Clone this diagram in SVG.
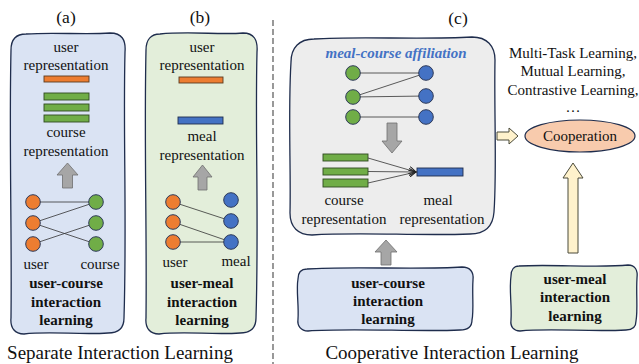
<svg xmlns="http://www.w3.org/2000/svg" width="639" height="364" viewBox="0 0 639 364">
<defs>
<style>
.t{font-family:"Liberation Serif","Times New Roman",serif;font-size:15px;fill:#111;text-anchor:middle}
.b{font-weight:bold}
.cap{font-size:19px}
.lab{font-size:17.5px}
.panel{stroke:#1F2D4D;stroke-width:1.3;stroke-linejoin:round}
.blue{fill:#DAE3F3}.green{fill:#E3EEDA}.grey{fill:#EDEDED}
.co{fill:#ED7D31;stroke:#2E3A59;stroke-width:1}
.cg{fill:#70AD47;stroke:#2E3A59;stroke-width:1}
.cb{fill:#4472C4;stroke:#2E3A59;stroke-width:1}
.bo{fill:#ED7D31;stroke:#5A3A20;stroke-width:0.9}
.bg{fill:#70AD47;stroke:#2F4A20;stroke-width:0.9}
.bb{fill:#4472C4;stroke:#1F2D4D;stroke-width:0.9}
.ln{stroke:#333;stroke-width:0.8;fill:none}
.ga{fill:#A6A6A6;stroke:#6E6E6E;stroke-width:0.8}
.ya{fill:#FFF2CC;stroke:#4A4A3A;stroke-width:1}
</style>
<marker id="ah" markerWidth="8" markerHeight="8" refX="7" refY="4" orient="auto" markerUnits="userSpaceOnUse">
<path d="M0,0.5 L7,4 L0,7.5" fill="none" stroke="#222" stroke-width="1"/>
</marker>
</defs>

<!-- Panel (a) -->
<g id="panel-a">
<text class="t lab" x="66" y="23">(a)</text>
<path class="panel blue" d="M26 34 C55 32,85 35,110 33 C122 33,126 40,125 52 C123 130,127 220,124 318 C124 328,118 333,108 333 C80 335,50 331,24 334 C15 334,10 328,11 318 C12 230,9 140,11 50 C11 40,16 34,26 34 Z"/>
<text class="t" x="66" y="52">user</text>
<text class="t" x="66" y="70">representation</text>
<rect class="bo" x="44" y="76" width="45" height="6"/>
<rect class="bg" x="44" y="93" width="45" height="7"/>
<rect class="bg" x="44" y="104" width="45" height="7"/>
<rect class="bg" x="44" y="115" width="45" height="7"/>
<text class="t" x="66" y="137">course</text>
<text class="t" x="66" y="156">representation</text>
<path class="ga" d="M62.5 188 L62.5 175 L57 175 L67.5 163 L78 175 L72.5 175 L72.5 188 Z"/>
<g id="graph-a">
<line class="ln" x1="33" y1="202" x2="96" y2="202"/>
<line class="ln" x1="33" y1="223" x2="96" y2="202"/>
<line class="ln" x1="33" y1="223" x2="96" y2="244"/>
<line class="ln" x1="33" y1="244" x2="96" y2="223"/>
<circle class="co" cx="33" cy="202" r="7.3"/>
<circle class="co" cx="33" cy="223" r="7.3"/>
<circle class="co" cx="33" cy="244" r="7.3"/>
<circle class="cg" cx="96" cy="202" r="7.3"/>
<circle class="cg" cx="96" cy="223" r="7.3"/>
<circle class="cg" cx="96" cy="244" r="7.3"/>
</g>
<text class="t" x="36" y="269">user</text>
<text class="t" x="100" y="269">course</text>
<text class="t b" x="66" y="288">user-course</text>
<text class="t b" x="66" y="307">interaction</text>
<text class="t b" x="66" y="325">learning</text>
</g>

<!-- Panel (b) -->
<g id="panel-b">
<text class="t lab" x="200" y="23">(b)</text>
<path class="panel green" d="M160 34 C190 31,220 35,243 33 C254 33,258 40,257 52 C255 130,259 220,256 318 C256 328,250 333,240 333 C212 335,185 331,159 334 C150 334,145 328,146 318 C147 230,144 140,146 50 C146 40,151 34,160 34 Z"/>
<text class="t" x="202" y="52">user</text>
<text class="t" x="202" y="70">representation</text>
<rect class="bo" x="179" y="77" width="44" height="6"/>
<rect class="bb" x="178" y="117" width="45" height="7"/>
<text class="t" x="202" y="141">meal</text>
<text class="t" x="202" y="160">representation</text>
<path class="ga" d="M198 190 L198 177 L193 177 L202.5 165 L212 177 L207 177 L207 190 Z"/>
<g id="graph-b">
<line class="ln" x1="173" y1="202" x2="231" y2="221"/>
<line class="ln" x1="173" y1="222" x2="231" y2="242"/>
<line class="ln" x1="173" y1="242" x2="231" y2="242"/>
<circle class="co" cx="173" cy="202" r="7.3"/>
<circle class="co" cx="173" cy="222" r="7.3"/>
<circle class="co" cx="173" cy="242" r="7.3"/>
<circle class="cb" cx="231" cy="200" r="7.3"/>
<circle class="cb" cx="231" cy="221" r="7.3"/>
<circle class="cb" cx="231" cy="242" r="7.3"/>
</g>
<text class="t" x="175" y="267">user</text>
<text class="t" x="236" y="266">meal</text>
<text class="t b" x="202" y="288">user-meal</text>
<text class="t b" x="202" y="307">interaction</text>
<text class="t b" x="202" y="325">learning</text>
</g>

<text class="t cap" x="120" y="359">Separate Interaction Learning</text>

<line x1="273" y1="20" x2="273" y2="364" stroke="#555" stroke-width="1.2" stroke-dasharray="6 3"/>

<!-- Panel (c) -->
<g id="panel-c">
<text class="t lab" x="458" y="24">(c)</text>
<path class="panel grey" d="M314 39 C360 36,420 40,472 37 C487 37,495 46,495 60 C494 110,497 170,494 212 C493 226,485 234,470 234 C420 236,360 232,312 235 C298 235,290 227,290 213 C291 170,288 110,291 62 C291 48,299 39,314 39 Z"/>
<text class="t b" x="396" y="58" font-style="italic" style="fill:#4472C4">meal-course affiliation</text>
<g id="graph-c">
<line class="ln" x1="353" y1="73" x2="426" y2="73"/>
<line class="ln" x1="353" y1="97" x2="426" y2="73"/>
<line class="ln" x1="353" y1="97" x2="426" y2="96"/>
<line class="ln" x1="353" y1="117" x2="426" y2="117"/>
<circle class="cg" cx="353" cy="73" r="7.3"/>
<circle class="cg" cx="353" cy="97" r="7.3"/>
<circle class="cg" cx="353" cy="117" r="7.3"/>
<circle class="cb" cx="426" cy="73" r="7.3"/>
<circle class="cb" cx="426" cy="96" r="7.3"/>
<circle class="cb" cx="426" cy="117" r="7.3"/>
</g>
<path class="ga" d="M387 123 L397 123 L397 141 L402 141 L392 153 L382 141 L387 141 Z"/>
<rect class="bg" x="323" y="154" width="45" height="7"/>
<rect class="bg" x="323" y="168" width="45" height="7"/>
<rect class="bg" x="323" y="179" width="45" height="8"/>
<rect class="bb" x="417" y="168" width="46" height="8"/>
<text class="t" x="344" y="205">course</text>
<text class="t" x="344" y="224">representation</text>
<text class="t" x="438" y="205">meal</text>
<text class="t" x="442" y="224">representation</text>
</g>

<g id="connectors">
<line class="ln" x1="368" y1="158" x2="416" y2="172" marker-end="url(#ah)"/>
<line class="ln" x1="368" y1="171.5" x2="416" y2="172" marker-end="url(#ah)"/>
<line class="ln" x1="368" y1="183" x2="416" y2="172" marker-end="url(#ah)"/>
<path class="ga" d="M381 265 L381 252 L375 252 L386 240 L397 252 L391 252 L391 265 Z"/>
<path class="ya" d="M497 132 L509 132 L509 128 L518 136 L509 144 L509 140 L497 140 Z"/>
<path class="ya" d="M568 253 L568 178 L563 178 L573 163 L583 178 L578 178 L578 253 Z"/>
</g>

<g id="node-user-course">
<path class="panel blue" d="M307 269 C350 266,420 270,462 267 C470 267,474 272,473 280 C472 295,474 310,472 320 C472 327,467 330,460 330 C420 332,350 328,308 331 C301 331,297 326,298 319 C299 305,296 290,298 279 C298 272,301 269,307 269 Z"/>
<text class="t b" x="388" y="288">user-course</text>
<text class="t b" x="388" y="306">interaction</text>
<text class="t b" x="388" y="324">learning</text>
</g>

<g id="node-cooperation">
<ellipse cx="580" cy="136" rx="55" ry="16" fill="#F8CBAD" stroke="#1F2D4D" stroke-width="1.2"/>
<text class="t" x="580" y="141">Cooperation</text>
</g>
<text class="t" x="573" y="58">Multi-Task Learning,</text>
<text class="t" x="573" y="76">Mutual Learning,</text>
<text class="t" x="573" y="95">Contrastive Learning,</text>
<text class="t" x="573" y="112">…</text>

<g id="node-user-meal">
<path class="panel green" d="M519 266 C550 264,600 268,628 265 C635 265,638 270,637 278 C636 295,638 310,636 321 C636 327,632 330,626 330 C590 332,550 328,520 331 C514 331,510 327,511 320 C512 305,509 290,511 276 C511 270,514 266,519 266 Z"/>
<text class="t b" x="575" y="284">user-meal</text>
<text class="t b" x="575" y="302">interaction</text>
<text class="t b" x="575" y="321">learning</text>
</g>

<text class="t cap" x="452" y="359">Cooperative Interaction Learning</text>
</svg>
